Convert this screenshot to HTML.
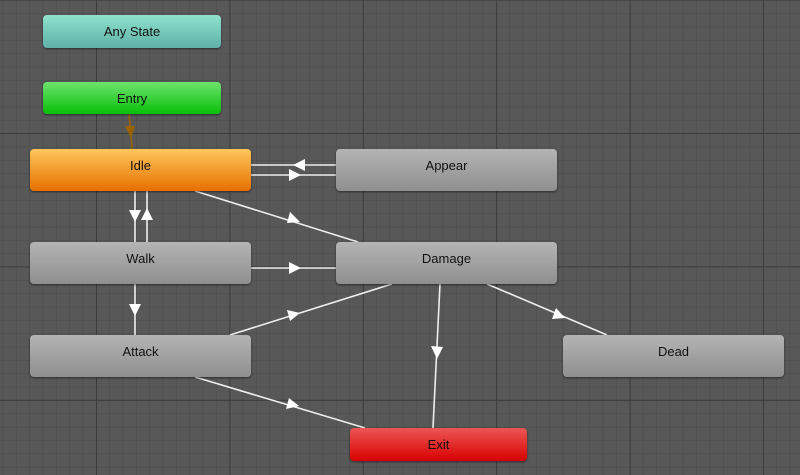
<!DOCTYPE html>
<html><head><meta charset="utf-8"><style>
html,body{margin:0;padding:0;width:800px;height:475px;overflow:hidden;background:#585858}
svg{position:absolute;left:0;top:0}
.n{position:absolute;border-radius:4px;font-family:"Liberation Sans",sans-serif;font-size:13px;color:#111;text-align:center;box-shadow:0 1px 2px rgba(0,0,0,.5);box-sizing:border-box}
.g{background:linear-gradient(#b4b4b4,#8f8f8f);height:42px;width:221px;padding-top:9px}
</style></head><body>
<svg width="800" height="475">
<defs>
<pattern id="mi" x="2.6" y="0" width="13.34" height="13.34" patternUnits="userSpaceOnUse">
<path d="M0 0H13.34M0 0V13.34" stroke="#4b4b4b" stroke-width="1" fill="none"/></pattern>
<pattern id="ma" x="96" y="133" width="133.4" height="133.4" patternUnits="userSpaceOnUse">
<path d="M0.5 0V133.4M0 0.5H133.4" stroke="#3c3c3c" stroke-width="1" fill="none"/></pattern>
</defs>
<rect width="800" height="475" fill="#585858"/>
<rect width="800" height="475" fill="url(#mi)"/>
<rect width="800" height="475" fill="url(#ma)"/>
<g stroke="#eee" stroke-width="1.6" fill="none">
<line x1="251" y1="165" x2="336" y2="165"/>
<line x1="251" y1="175" x2="336" y2="175"/>
<line x1="195" y1="191" x2="358" y2="242"/>
<line x1="135" y1="191" x2="135" y2="242"/>
<line x1="147" y1="191" x2="147" y2="242"/>
<line x1="251" y1="268" x2="336" y2="268"/>
<line x1="135" y1="284" x2="135" y2="335"/>
<line x1="230" y1="335" x2="392" y2="284"/>
<line x1="487" y1="284" x2="607" y2="335"/>
<line x1="440" y1="284" x2="433" y2="428"/>
<line x1="195" y1="377" x2="365" y2="428"/>
</g>
<line x1="129" y1="114" x2="132" y2="149" stroke="#9a6200" stroke-width="1.6"/>
<g fill="#fff">
<polygon points="125,126 135,126 131,138" fill="#9a6200"/>
<polygon points="293,165 305,159 305,171"/>
<polygon points="301,175 289,169 289,181"/>
<polygon points="300,222 287,223 290,212"/>
<polygon points="135,222 129,210 141,210"/>
<polygon points="147,208 141,220 153,220"/>
<polygon points="301,268 289,262 289,274"/>
<polygon points="135,316 129,304 141,304"/>
<polygon points="300,313 290,321 287,310"/>
<polygon points="565,318 552,319 556,308"/>
<polygon points="437,359 431,346 443,347"/>
<polygon points="299,406 286,409 289,398"/>
</g>
</svg>
<div class="n" style="left:43px;top:15px;width:178px;height:33px;padding-top:9px;background:linear-gradient(#8fe2cc,#5eb1a7)">Any State</div>
<div class="n" style="left:43px;top:82px;width:178px;height:32px;padding-top:9px;background:linear-gradient(#6ee36e,#08bf08)">Entry</div>
<div class="n" style="left:30px;top:149px;width:221px;height:42px;padding-top:9px;background:linear-gradient(#ffc65c,#e67000)">Idle</div>
<div class="n g" style="left:336px;top:149px">Appear</div>
<div class="n g" style="left:30px;top:242px">Walk</div>
<div class="n g" style="left:336px;top:242px">Damage</div>
<div class="n g" style="left:30px;top:335px">Attack</div>
<div class="n g" style="left:563px;top:335px">Dead</div>
<div class="n" style="left:350px;top:428px;width:177px;height:33px;padding-top:9px;background:linear-gradient(#ec5656,#d80000)">Exit</div>
</body></html>
